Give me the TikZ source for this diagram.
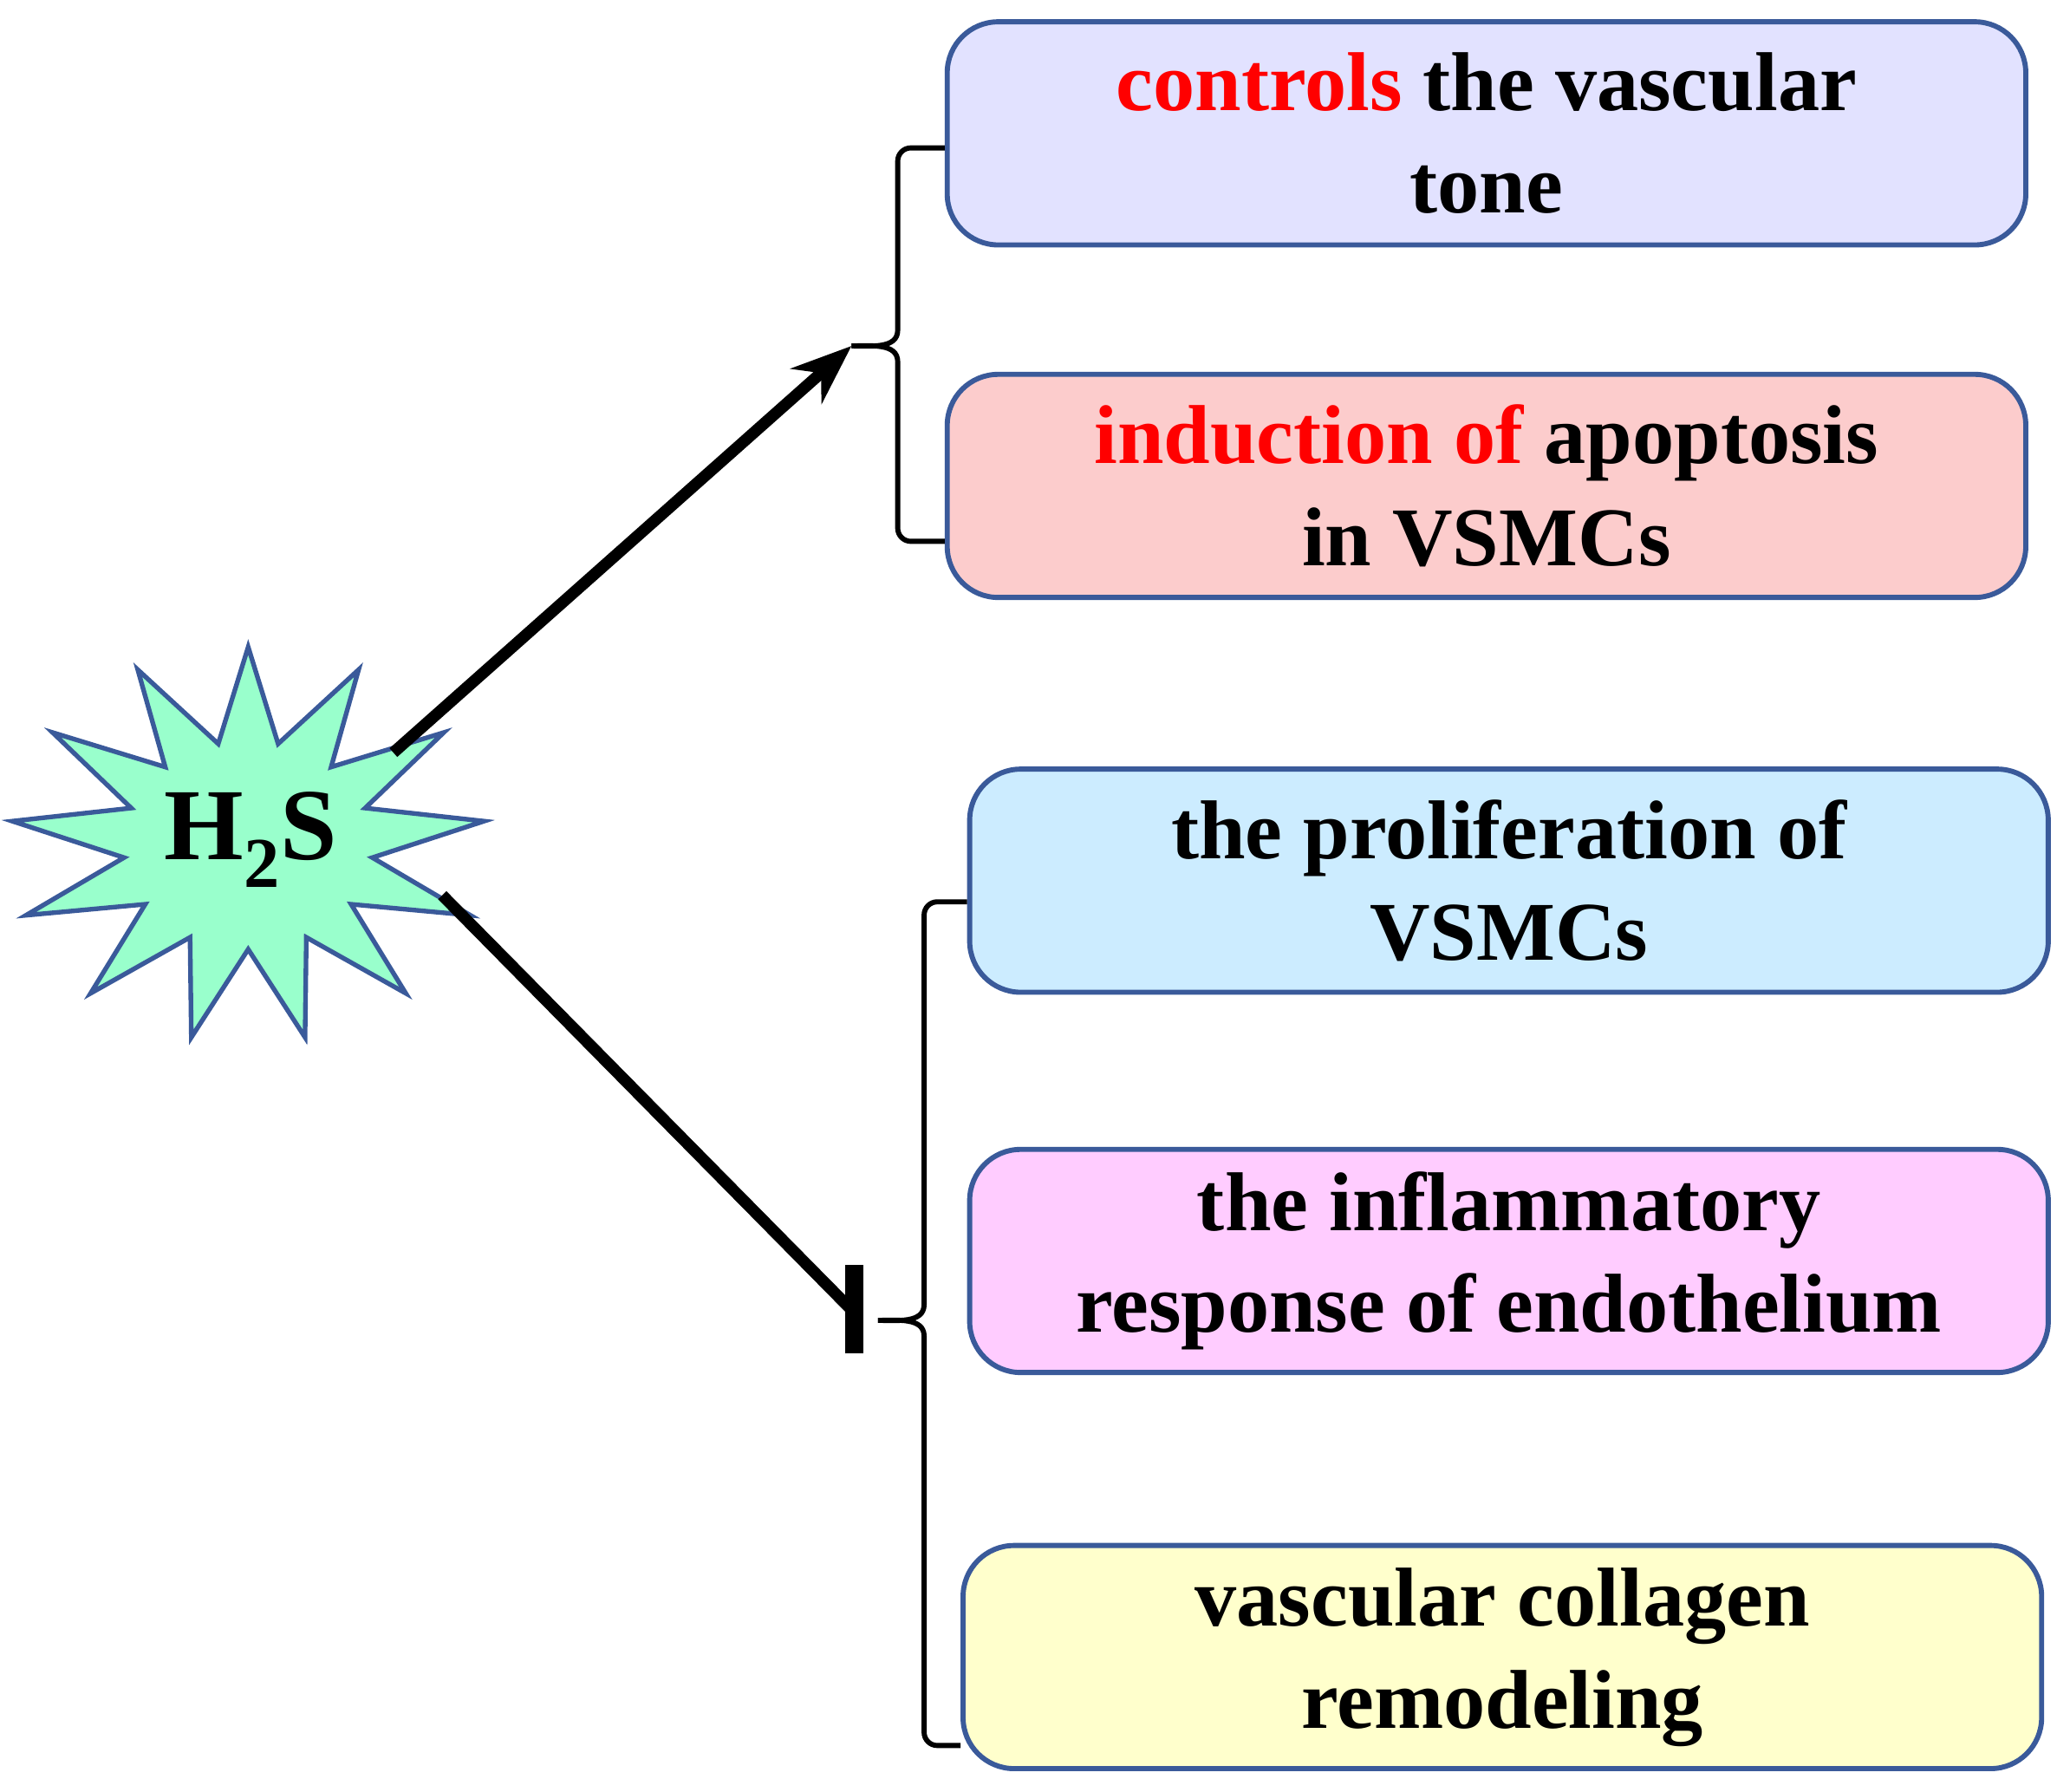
\documentclass[tikz,border=0pt]{standalone}
\usepackage{fontspec}
\setmainfont{Liberation Serif}
\usetikzlibrary{shapes.geometric,arrows.meta}
\definecolor{bd}{HTML}{3A5A9A}
\tikzset{
  box/.style={draw=bd,line width=2.2pt,rounded corners=22pt,minimum width=817*0.02cm,minimum height=169*0.02cm,align=center,font=\fontsize{36}{44}\selectfont\bfseries,inner sep=0pt},
  brace/.style={draw=black,line width=2.2pt},
  link/.style={line width=5pt,black}
}
\begin{document}
\begin{tikzpicture}[x=0.02cm,y=-0.02cm]
\useasboundingbox (0,0) rectangle (1568,1357);
\node[box,fill={rgb,255:red,226;green,226;blue,255}] (b1) at (1126,101) {\textcolor{red}{controls} the vascular\\tone};
\node[box,fill={rgb,255:red,252;green,204;blue,204}] (b2) at (1126,368) {\textcolor{red}{induction of} apoptosis\\in VSMCs};
\node[box,fill={rgb,255:red,204;green,236;blue,255}] (b3) at (1143,667) {the proliferation of\\VSMCs};
\node[box,fill={rgb,255:red,255;green,204;blue,255}] (b4) at (1143,955) {the inflammatory\\response of endothelium};
\node[box,fill={rgb,255:red,255;green,255;blue,204}] (b5) at (1138,1255) {vascular collagen\\remodeling};
\node[star,star points=13,star point ratio=1.9,draw=bd,line width=2pt,fill={rgb,255:red,153;green,255;blue,204},minimum size=300*0.02cm,xscale=1.2,inner sep=0pt] (star) at (188,640) {};
\node[font=\fontsize{44}{50}\selectfont\bfseries] (h2s) at (190,636) {H\textsubscript{2}S};
% brace 1
\coordinate (t1) at (645,262);
\draw[brace] (b1.west|-0,112) -- (690,112) to[out=180,in=90] (680,122) -- (680,250) to[out=-90,in=0] (t1) ;
\draw[brace] (t1) to[out=0,in=90] (680,274) -- (680,400) to[out=-90,in=180] (690,410) -- (b2.west|-0,410);
% brace 2
\coordinate (t2) at (665,1000);
\draw[brace] (b3.west|-0,683) -- (710,683) to[out=180,in=90] (700,693) -- (700,988) to[out=-90,in=0] (t2);
\draw[brace] (t2) to[out=0,in=90] (700,1012) -- (700,1312) to[out=-90,in=180] (710,1322) -- (b5.west|-0,1322);
\coordinate (s1) at (298,570);
\coordinate (s2) at (335,678);
\coordinate (e2) at (645,992);
\draw[link,-{Stealth[length=26pt,width=20pt]}] (s1) -- (t1);
\draw[link] (s2) -- (e2);
\draw[line width=8pt] (647,958) -- (647,1025);
\end{tikzpicture}
\end{document}
